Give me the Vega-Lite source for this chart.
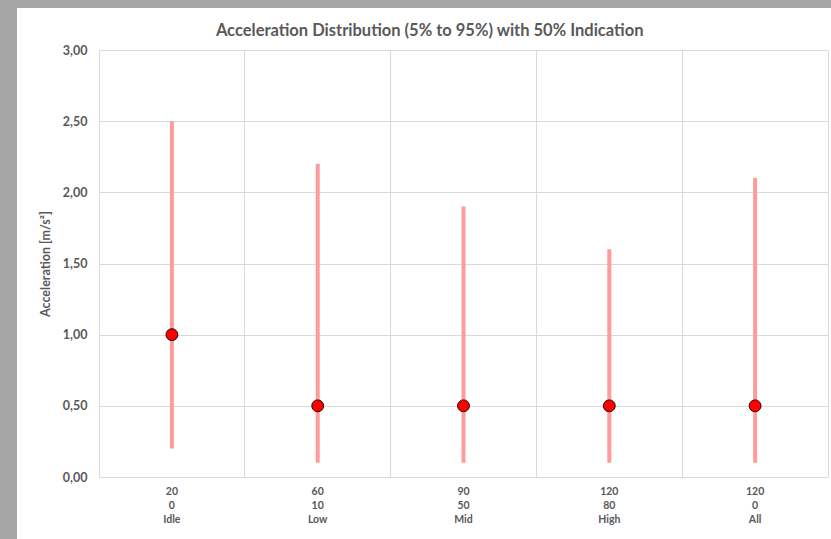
{
  "$schema": "https://vega.github.io/schema/vega-lite/v6.json",
  "background": "white",
  "padding": 0,
  "spacing": 0,
  "config": {
    "font": "Lato",
    "view": {"stroke": null}
  },
  "hconcat": [
    {
      "width": 17,
      "height": 539,
      "view": {"fill": "#a6a6a6", "stroke": null},
      "data": {"values": []},
      "mark": "rect"
    },
    {
      "columns": 1,
      "align": "none",
      "spacing": 14,
      "concat": [
        {
          "width": 814,
          "height": 8,
          "view": {"fill": "#a6a6a6", "stroke": null},
          "data": {"values": []},
          "mark": "rect"
        },
        {
          "spacing": 0,
          "hconcat": [
            {
              "width": 1,
              "height": 1,
              "view": {"stroke": null},
              "data": {"values": []},
              "mark": "rect"
            },
            {
              "width": 729,
              "height": 427,
              "view": {"stroke": "#d9d9d9", "strokeWidth": 1},
              "title": {
                "text": "Acceleration Distribution (5% to 95%) with 50% Indication",
                "font": "Lato",
                "fontSize": 16.5,
                "fontWeight": "bold",
                "color": "#595959",
                "frame": "bounds",
                "anchor": "middle",
                "dx": 6,
                "offset": 5
              },
              "data": {
                "values": [
                  {"label": "20\n0\nIdle", "p5": 0.2, "p50": 1.0, "p95": 2.5},
                  {"label": "60\n10\nLow", "p5": 0.1, "p50": 0.5, "p95": 2.2},
                  {"label": "90\n50\nMid", "p5": 0.1, "p50": 0.5, "p95": 1.9},
                  {"label": "120\n80\nHigh", "p5": 0.1, "p50": 0.5, "p95": 1.6},
                  {"label": "120\n0\nAll", "p5": 0.1, "p50": 0.5, "p95": 2.1}
                ]
              },
              "encoding": {
                "x": {
                  "field": "label",
                  "type": "nominal",
                  "sort": null,
                  "scale": {"paddingInner": 0, "paddingOuter": 0},
                  "axis": {
                    "title": null,
                    "labelAngle": 0,
                    "labelExpr": "split(datum.label, '\\n')",
                    "labelFont": "Lato",
                    "labelFontSize": 10.5,
                    "labelFontWeight": "bold",
                    "labelColor": "#595959",
                    "labelLineHeight": 14,
                    "labelPadding": 9,
                    "ticks": false,
                    "domain": false,
                    "grid": true,
                    "bandPosition": 0,
                    "gridColor": "#d9d9d9"
                  }
                }
              },
              "layer": [
                {
                  "mark": {"type": "rule", "color": "#ff9b9b", "strokeWidth": 4},
                  "encoding": {
                    "y": {
                      "field": "p5",
                      "type": "quantitative",
                      "scale": {"domain": [0, 3], "nice": false},
                      "axis": {
                        "title": ["", "Acceleration [m/s²]"],
                        "titleLineHeight": 20,
                        "titleFont": "Lato",
                        "titleFontSize": 12.5,
                        "titleFontWeight": "bold",
                        "titleColor": "#595959",
                        "titlePadding": 10,
                        "values": [0, 0.5, 1, 1.5, 2, 2.5, 3],
                        "labelExpr": "replace(format(datum.value, '.2f'), '.', ',')",
                        "labelFont": "Lato",
                        "labelFontSize": 12.5,
                        "labelFontWeight": "bold",
                        "labelColor": "#595959",
                        "labelPadding": 12,
                        "ticks": false,
                        "domain": false,
                        "grid": true,
                        "gridColor": "#d9d9d9"
                      }
                    },
                    "y2": {"field": "p95"}
                  }
                },
                {
                  "mark": {"type": "circle", "size": 140, "color": "#ff0000", "opacity": 1, "stroke": "#2a0000", "strokeWidth": 1},
                  "encoding": {
                    "y": {"field": "p50", "type": "quantitative"}
                  }
                }
              ]
            }
          ]
        }
      ]
    }
  ]
}
